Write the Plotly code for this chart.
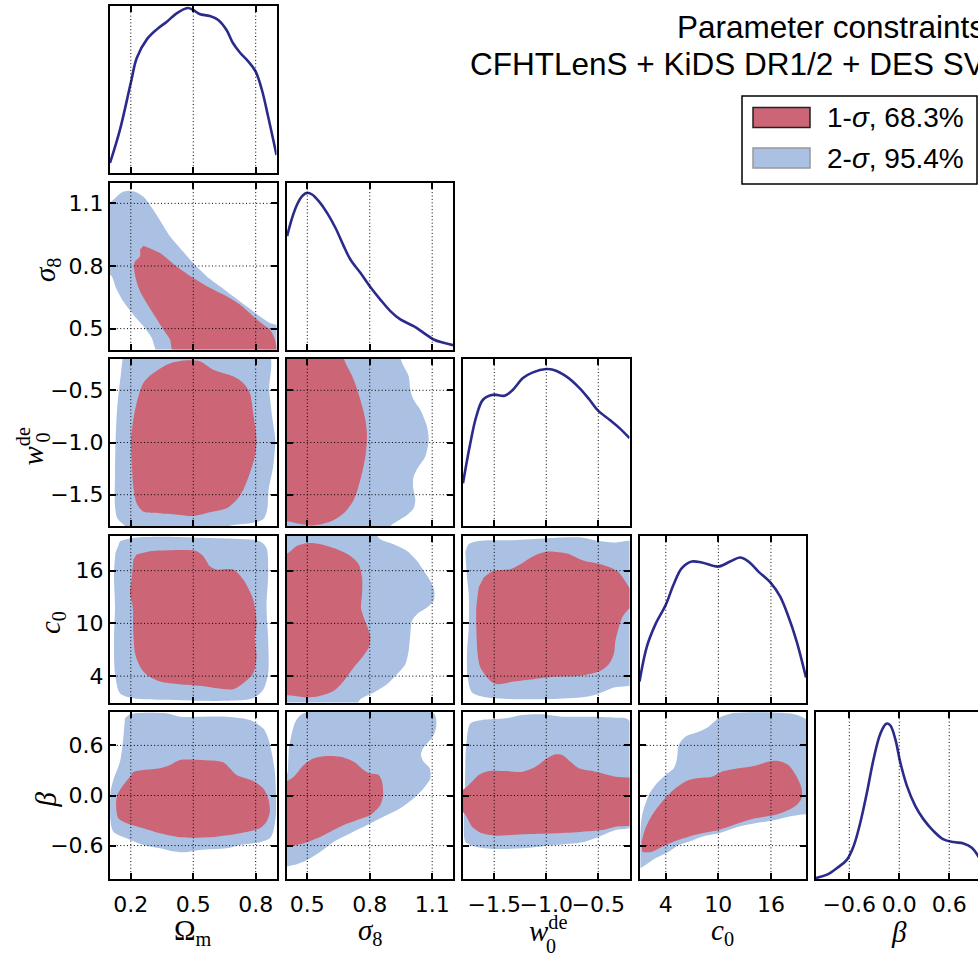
import plotly.graph_objects as go

W, H = 978, 958

# ---------------- parameters / axes ----------------
param_labels = ["Ω<sub>m</sub>", "<i>σ</i><sub>8</sub>", "<i>w</i><sup>de</sup>",
                "<i>c</i><sub>0</sub>", "<i>β</i>"]
stacked_sub = {2: "0"}
param_ranges = [[0.1, 0.9], [0.4, 1.2], [-1.8, -0.2], [1.0, 20.0], [-1.0, 1.0]]
tick_vals = [[0.2, 0.5, 0.8], [0.5, 0.8, 1.1], [-1.5, -1.0, -0.5], [4, 10, 16], [-0.6, 0.0, 0.6]]
tick_text = [["0.2", "0.5", "0.8"], ["0.5", "0.8", "1.1"], ["−1.5", "−1.0", "−0.5"],
             ["4", "10", "16"], ["−0.6", "0.0", "0.6"]]

title_lines = ["Parameter constraints", "CFHTLenS + KiDS DR1/2 + DES SV"]
legend_labels = ["1-<i>σ</i>, 68.3%", "2-<i>σ</i>, 95.4%"]

# ---------------- 1D marginals (normalised heights) ----------------
om_1d_x = [0.1, 0.148, 0.2, 0.229, 0.277, 0.325, 0.373, 0.42, 0.473, 0.5, 0.53, 0.58, 0.62,
           0.66, 0.69, 0.725, 0.765, 0.8, 0.83, 0.86, 0.9]
om_1d_y = [0.06, 0.26, 0.54, 0.69, 0.80, 0.86, 0.906, 0.956, 0.988, 0.976, 0.952, 0.94, 0.916,
           0.856, 0.78, 0.72, 0.667, 0.607, 0.497, 0.337, 0.108]

s8_1d_x = [0.403, 0.427, 0.451, 0.475, 0.499, 0.523, 0.555, 0.595, 0.635, 0.675, 0.707, 0.755,
           0.8, 0.851, 0.899, 0.947, 1.011, 1.059, 1.107, 1.155, 1.2]
s8_1d_y = [0.679, 0.788, 0.868, 0.918, 0.938, 0.928, 0.888, 0.818, 0.729, 0.619, 0.539, 0.459,
           0.379, 0.299, 0.230, 0.180, 0.140, 0.100, 0.060, 0.040, 0.026]

w0_1d_x = [-1.8, -1.736, -1.672, -1.608, -1.512, -1.40, -1.32, -1.224, -1.128, -1.0, -0.936,
           -0.808, -0.68, -0.584, -0.504, -0.392, -0.296, -0.2]
w0_1d_y = [0.256, 0.476, 0.656, 0.756, 0.786, 0.78, 0.816, 0.886, 0.92, 0.94, 0.936, 0.896,
           0.826, 0.756, 0.692, 0.636, 0.586, 0.526]

c0_1d_x = [1.0, 1.84, 2.79, 4.0, 4.88, 5.83, 6.97, 8.11, 10.0, 11.34, 12.48, 13.43, 14.57,
           16.0, 17.04, 17.99, 18.94, 20.0]
c0_1d_y = [0.126, 0.335, 0.465, 0.585, 0.705, 0.805, 0.844, 0.838, 0.814, 0.844, 0.868, 0.844,
           0.784, 0.715, 0.635, 0.515, 0.365, 0.15]

beta_1d_x = [-1.0, -0.868, -0.748, -0.628, -0.548, -0.468, -0.388, -0.308, -0.228, -0.156,
             -0.108, -0.048, 0.012, 0.092, 0.192, 0.292, 0.412, 0.532, 0.652, 0.772, 0.872,
             0.948, 1.0]
beta_1d_y = [0.006, 0.026, 0.066, 0.116, 0.197, 0.337, 0.518, 0.719, 0.869, 0.930, 0.920,
             0.839, 0.699, 0.558, 0.438, 0.357, 0.287, 0.237, 0.221, 0.213, 0.187, 0.137, 0.076]

# ---------------- 2D contours (x, y) ----------------
om_s8_2sig = [(0.1, 1.077), (0.124, 1.125), (0.156, 1.152), (0.188, 1.160), (0.228, 1.152),
              (0.268, 1.125), (0.308, 1.069), (0.348, 1.006), (0.388, 0.942), (0.436, 0.886),
              (0.5, 0.814), (0.564, 0.751), (0.628, 0.703), (0.692, 0.655), (0.756, 0.607),
              (0.82, 0.559), (0.868, 0.527), (0.9, 0.504), (0.9, 0.4), (0.34, 0.4),
              (0.3, 0.456), (0.26, 0.512), (0.212, 0.567), (0.164, 0.631), (0.129, 0.695),
              (0.108, 0.751), (0.1, 0.782)]
om_s8_1sig = [(0.26, 0.897), (0.34, 0.862), (0.42, 0.798), (0.5, 0.743), (0.596, 0.687),
              (0.66, 0.655), (0.724, 0.615), (0.788, 0.559), (0.836, 0.52), (0.868, 0.496),
              (0.892, 0.448), (0.897, 0.4), (0.412, 0.4), (0.388, 0.448), (0.356, 0.496),
              (0.316, 0.559), (0.276, 0.623), (0.244, 0.679), (0.225, 0.735), (0.215, 0.798),
              (0.22, 0.822), (0.244, 0.846), (0.244, 0.878)]

om_w0_2sig = [(0.164, -0.2), (0.86, -0.2), (0.865, -0.494), (0.881, -0.782), (0.894, -0.974),
              (0.884, -1.23), (0.862, -1.454), (0.855, -1.646), (0.836, -1.736), (0.788, -1.768),
              (0.692, -1.79), (0.532, -1.8), (0.212, -1.8), (0.164, -1.784), (0.135, -1.726),
              (0.124, -1.614), (0.124, -1.294), (0.127, -0.974), (0.135, -0.654), (0.151, -0.366)]
om_w0_1sig = [(0.404, -0.232), (0.468, -0.213), (0.532, -0.222), (0.596, -0.302), (0.692, -0.366),
              (0.74, -0.43), (0.772, -0.526), (0.788, -0.718), (0.804, -0.974), (0.796, -1.134),
              (0.772, -1.294), (0.74, -1.454), (0.708, -1.55), (0.66, -1.63), (0.596, -1.662),
              (0.5, -1.704), (0.436, -1.694), (0.34, -1.678), (0.26, -1.662), (0.228, -1.582),
              (0.212, -1.422), (0.204, -1.166), (0.201, -0.974), (0.212, -0.782), (0.228, -0.622),
              (0.26, -0.43), (0.308, -0.334), (0.372, -0.254)]

om_c0_2sig = [(0.148, 19.35), (0.212, 19.73), (0.372, 19.85), (0.532, 19.73), (0.692, 19.62),
              (0.82, 19.35), (0.852, 18.59), (0.86, 15.74), (0.852, 11.94), (0.86, 8.14),
              (0.86, 4.34), (0.836, 2.44), (0.788, 1.49), (0.692, 1.23), (0.532, 1.19),
              (0.372, 1.30), (0.212, 1.49), (0.148, 2.06), (0.124, 4.34), (0.119, 8.14),
              (0.124, 11.94), (0.119, 15.74), (0.126, 18.02)]
om_c0_1sig = [(0.228, 17.83), (0.292, 18.21), (0.404, 18.33), (0.516, 18.21), (0.548, 17.64),
              (0.58, 16.50), (0.612, 16.12), (0.692, 16.12), (0.74, 14.98), (0.788, 12.70),
              (0.804, 10.04), (0.796, 8.14), (0.804, 6.24), (0.788, 4.34), (0.74, 3.20),
              (0.692, 2.52), (0.612, 2.63), (0.532, 2.90), (0.436, 3.09), (0.34, 3.39),
              (0.276, 4.15), (0.244, 5.10), (0.22, 6.62), (0.212, 8.90), (0.209, 11.94),
              (0.196, 13.46), (0.204, 14.98), (0.212, 17.26)]

om_beta_2sig = [(0.172, 0.924), (0.196, 0.972), (0.372, 0.984), (0.436, 0.944), (0.532, 0.944),
                (0.66, 0.944), (0.772, 0.904), (0.836, 0.804), (0.86, 0.685), (0.876, 0.525),
                (0.892, 0.285), (0.897, 0.046), (0.897, -0.234), (0.884, -0.433), (0.868, -0.513),
                (0.82, -0.561), (0.724, -0.593), (0.66, -0.633), (0.532, -0.653), (0.452, -0.681),
                (0.388, -0.661), (0.34, -0.633), (0.26, -0.593), (0.18, -0.513), (0.116, -0.433),
                (0.103, -0.313), (0.103, 0.046), (0.116, 0.186), (0.148, 0.405), (0.164, 0.685)]
om_beta_1sig = [(0.212, 0.285), (0.26, 0.305), (0.34, 0.325), (0.388, 0.365), (0.436, 0.425),
                (0.532, 0.425), (0.644, 0.397), (0.676, 0.325), (0.708, 0.245), (0.788, 0.174),
                (0.836, 0.086), (0.86, -0.034), (0.868, -0.194), (0.852, -0.313), (0.82, -0.393),
                (0.724, -0.453), (0.612, -0.493), (0.5, -0.505), (0.436, -0.501), (0.34, -0.453),
                (0.26, -0.393), (0.18, -0.333), (0.14, -0.273), (0.129, -0.114), (0.135, 0.006),
                (0.164, 0.126), (0.196, 0.226)]

s8_w0_2sig = [(0.4, -0.2), (0.923, -0.2), (0.963, -0.27), (0.987, -0.366), (0.995, -0.494),
              (1.011, -0.59), (1.043, -0.686), (1.075, -0.846), (1.083, -0.974), (1.067, -1.134),
              (1.035, -1.23), (1.011, -1.326), (1.008, -1.422), (1.019, -1.55), (1.011, -1.63),
              (0.979, -1.694), (0.915, -1.774), (0.851, -1.8), (0.4, -1.8)]
s8_w0_1sig = [(0.4, -0.2), (0.651, -0.2), (0.691, -0.27), (0.723, -0.398), (0.755, -0.59),
              (0.779, -0.782), (0.787, -0.942), (0.779, -1.134), (0.755, -1.358), (0.723, -1.55),
              (0.675, -1.678), (0.611, -1.758), (0.531, -1.794), (0.467, -1.781), (0.411, -1.758),
              (0.4, -1.742)]

s8_c0_2sig = [(0.4, 20.0), (0.803, 20.0), (0.851, 19.58), (0.915, 19.01), (0.979, 18.25),
              (1.027, 17.12), (1.059, 15.98), (1.091, 14.84), (1.110, 13.70), (1.107, 12.57),
              (1.075, 11.81), (1.027, 11.05), (1.003, 10.29), (0.995, 8.77), (0.987, 6.88),
              (0.971, 5.36), (0.931, 4.22), (0.883, 3.09), (0.819, 2.14), (0.755, 1.38),
              (0.723, 1.0), (0.4, 1.0)]
s8_c0_1sig = [(0.4, 17.5), (0.411, 18.06), (0.451, 18.82), (0.499, 19.13), (0.563, 19.01),
              (0.643, 18.44), (0.707, 17.68), (0.747, 16.74), (0.763, 15.22), (0.763, 13.32),
              (0.758, 11.81), (0.771, 10.67), (0.79, 9.53), (0.803, 8.39), (0.795, 7.26),
              (0.763, 6.12), (0.723, 4.98), (0.675, 3.46), (0.627, 2.33), (0.563, 1.76),
              (0.499, 1.57), (0.435, 1.76), (0.4, 1.95)]

s8_beta_2sig = [(0.411, 0.565), (0.443, 0.884), (0.483, 0.984), (1.107, 0.984), (1.12, 0.844),
                (1.107, 0.725), (1.083, 0.645), (1.056, 0.565), (1.046, 0.485), (1.059, 0.405),
                (1.088, 0.325), (1.091, 0.206), (1.059, 0.086), (1.011, -0.034), (0.947, -0.154),
                (0.883, -0.234), (0.819, -0.313), (0.755, -0.393), (0.691, -0.473), (0.627, -0.553),
                (0.563, -0.673), (0.499, -0.772), (0.435, -0.832), (0.4, -0.84), (0.4, -0.114),
                (0.406, 0.285)]
s8_beta_1sig = [(0.4, 0.126), (0.435, 0.226), (0.483, 0.365), (0.531, 0.445), (0.595, 0.473),
                (0.659, 0.465), (0.723, 0.405), (0.771, 0.305), (0.8, 0.265), (0.843, 0.245),
                (0.859, 0.166), (0.864, 0.006), (0.851, -0.114), (0.803, -0.234), (0.739, -0.293),
                (0.675, -0.353), (0.611, -0.433), (0.547, -0.513), (0.483, -0.573), (0.427, -0.601),
                (0.4, -0.601)]

w0_c0_2sig = [(-1.778, 18.1), (-1.745, 19.01), (-1.633, 19.39), (-1.313, 19.47), (-0.992, 19.69),
              (-0.671, 19.77), (-0.511, 19.39), (-0.351, 19.20), (-0.2, 19.20), (-0.2, 3.28),
              (-0.351, 2.71), (-0.511, 1.95), (-0.671, 1.57), (-0.992, 1.38), (-1.313, 1.38),
              (-1.569, 1.57), (-1.713, 2.14), (-1.755, 3.84), (-1.762, 6.50), (-1.745, 9.53),
              (-1.745, 13.32), (-1.762, 15.22)]
w0_c0_1sig = [(-1.601, 15.22), (-1.505, 15.98), (-1.345, 16.17), (-1.249, 16.74), (-1.120, 17.68),
              (-0.992, 18.18), (-0.8, 17.95), (-0.639, 17.12), (-0.479, 16.74), (-0.319, 15.98),
              (-0.223, 14.46), (-0.2, 12.57), (-0.223, 11.43), (-0.271, 10.67), (-0.303, 9.53),
              (-0.335, 8.02), (-0.351, 6.50), (-0.399, 5.36), (-0.479, 4.60), (-0.671, 4.03),
              (-0.928, 3.92), (-1.12, 3.65), (-1.313, 3.39), (-1.473, 3.09), (-1.537, 3.46),
              (-1.633, 4.98), (-1.659, 6.50), (-1.672, 9.53), (-1.672, 11.81), (-1.649, 14.08)]

w0_beta_2sig = [(-1.76, 0.725), (-1.728, 0.864), (-1.616, 0.904), (-1.392, 0.924), (-1.231, 0.964),
                (-1.039, 0.972), (-0.847, 0.944), (-0.591, 0.944), (-0.335, 0.932), (-0.207, 0.904),
                (-0.2, -0.353), (-0.335, -0.413), (-0.495, -0.493), (-0.655, -0.561),
                (-0.911, -0.593), (-1.231, -0.633), (-1.488, -0.641), (-1.68, -0.613),
                (-1.776, -0.553), (-1.792, -0.313), (-1.782, 0.086), (-1.776, 0.485)]
w0_beta_1sig = [(-1.8, 0.006), (-1.744, 0.126), (-1.648, 0.245), (-1.552, 0.293), (-1.392, 0.293),
                (-1.231, 0.285), (-1.103, 0.345), (-0.991, 0.445), (-0.911, 0.493), (-0.847, 0.485),
                (-0.767, 0.405), (-0.687, 0.325), (-0.527, 0.285), (-0.335, 0.226), (-0.2, 0.186),
                (-0.2, -0.333), (-0.335, -0.373), (-0.463, -0.413), (-0.655, -0.433),
                (-0.911, -0.453), (-1.231, -0.465), (-1.488, -0.481), (-1.616, -0.453),
                (-1.712, -0.373), (-1.776, -0.234), (-1.8, -0.114)]

c0_beta_2sig = [(1.114, -0.872), (1.114, -0.433), (1.303, -0.234), (2.06, 0.006), (2.82, 0.126),
                (3.96, 0.245), (4.91, 0.325), (5.28, 0.445), (5.47, 0.605), (6.23, 0.705),
                (7.75, 0.764), (8.89, 0.824), (10.02, 0.924), (11.54, 0.984), (17.99, 0.984),
                (19.5, 0.944), (20.0, 0.844), (20.0, -0.194), (19.13, -0.234), (17.99, -0.253),
                (16.47, -0.293), (14.2, -0.333), (12.3, -0.373), (10.02, -0.453), (8.13, -0.493),
                (6.61, -0.553), (5.47, -0.593), (4.34, -0.673), (2.82, -0.752), (1.68, -0.832)]
c0_beta_1sig = [(1.23, -0.553), (1.68, -0.393), (2.44, -0.234), (3.58, -0.074), (5.10, 0.086),
                (6.61, 0.186), (8.13, 0.214), (9.27, 0.226), (10.40, 0.285), (12.30, 0.325),
                (14.20, 0.357), (15.71, 0.405), (16.85, 0.413), (17.99, 0.365), (18.94, 0.226),
                (19.5, 0.086), (19.5, -0.034), (18.94, -0.114), (17.99, -0.174), (16.47, -0.234),
                (14.2, -0.273), (12.3, -0.333), (10.02, -0.413), (8.13, -0.453), (6.61, -0.493),
                (5.10, -0.545), (3.58, -0.613), (2.44, -0.673), (1.68, -0.681), (1.30, -0.673)]

# ---------------- styling ----------------
C_1SIG = "#CC6677"
C_2SIG = "#AAC1E3"
C_LINE = "#2B2B8C"
TICK_FONT = dict(family="DejaVu Sans", size=22, color="black")
LABEL_FONT = dict(family="Liberation Serif", size=29, color="black")
SUB_FONT = dict(family="Liberation Serif", size=20, color="black")
SANS = "Liberation Sans"

marginals = {0: (om_1d_x, om_1d_y), 1: (s8_1d_x, s8_1d_y), 2: (w0_1d_x, w0_1d_y),
             3: (c0_1d_x, c0_1d_y), 4: (beta_1d_x, beta_1d_y)}
contours = {(0, 1): (om_s8_2sig, om_s8_1sig), (0, 2): (om_w0_2sig, om_w0_1sig),
            (0, 3): (om_c0_2sig, om_c0_1sig), (0, 4): (om_beta_2sig, om_beta_1sig),
            (1, 2): (s8_w0_2sig, s8_w0_1sig), (1, 3): (s8_c0_2sig, s8_c0_1sig),
            (1, 4): (s8_beta_2sig, s8_beta_1sig), (2, 3): (w0_c0_2sig, w0_c0_1sig),
            (2, 4): (w0_beta_2sig, w0_beta_1sig), (3, 4): (c0_beta_2sig, c0_beta_1sig)}

PANEL = 166.5
STEP = 176.5
col_left = [110 + STEP * i for i in range(5)]
row_top = [6 + STEP * j for j in range(5)]


def px_x(p):
    return p / W


def px_y(p):
    return 1 - p / H


def clamp(v):
    return max(0.0, min(1.0, v))


def push_out(pts, xr, yr):
    """Vertices lying on a panel edge are moved slightly outside (clipped anyway)."""
    px_ = 0.04 * (xr[1] - xr[0])
    py_ = 0.04 * (yr[1] - yr[0])
    xs, ys = [], []
    for x, y in pts:
        if abs(x - xr[0]) < 1e-6:
            x -= px_
        elif abs(x - xr[1]) < 1e-6:
            x += px_
        if abs(y - yr[0]) < 1e-6:
            y -= py_
        elif abs(y - yr[1]) < 1e-6:
            y += py_
        xs.append(x)
        ys.append(y)
    return xs, ys


fig = go.Figure()
layout = {}
shapes = []
annotations = []
DOT = "1px,2.4px"

k = 0
for r in range(5):
    for c in range(r + 1):
        k += 1
        sfx = "" if k == 1 else str(k)
        xname, yname = "x" + sfx, "y" + sfx
        x0 = col_left[c]
        x1 = min(x0 + PANEL, W)
        y0 = row_top[r]
        y1 = y0 + 167
        xr = list(param_ranges[c])
        if x0 + PANEL > W:
            xr[1] = xr[0] + (W - x0) / PANEL * (xr[1] - xr[0])
        xdom = [clamp(px_x(x0)), clamp(px_x(x1))]
        ydom = [clamp(px_y(y1)), clamp(px_y(y0))]
        common = dict(ticks="inside", ticklen=6, tickwidth=1.5, tickcolor="black",
                      showline=True, linecolor="black", linewidth=2, showgrid=False,
                      zeroline=False, tickfont=TICK_FONT, fixedrange=True, tickangle=0)
        layout["xaxis" + sfx] = dict(domain=xdom, range=xr, anchor=yname,
                                     tickmode="array", tickvals=tick_vals[c],
                                     ticktext=tick_text[c], showticklabels=(r == 4),
                                     mirror="ticks", ticklabelstandoff=5, **common)
        if r == c:
            ya = dict(common)
            ya.update(ticks="", showticklabels=False)
            layout["yaxis" + sfx] = dict(domain=ydom, range=[0, 1],
                                         anchor=xname, mirror=(c != 4), **ya)
            mx, my = marginals[c]
            fig.add_trace(go.Scatter(x=mx, y=my, mode="lines", xaxis=xname, yaxis=yname,
                                     line=dict(color=C_LINE, width=2.6, shape="spline",
                                               smoothing=1.0),
                                     hoverinfo="skip", showlegend=False))
        else:
            yr = list(param_ranges[r])
            layout["yaxis" + sfx] = dict(domain=ydom, range=yr, anchor=xname,
                                         tickmode="array", tickvals=tick_vals[r],
                                         ticktext=tick_text[r], showticklabels=(c == 0),
                                         mirror="ticks", ticklabelstandoff=0, **common)
            two, one = contours[(c, r)]
            for pts, col in ((two, C_2SIG), (one, C_1SIG)):
                xs, ys = push_out(pts, xr, yr)
                fig.add_trace(go.Scatter(x=xs, y=ys, mode="lines", fill="toself",
                                         fillcolor=col, xaxis=xname, yaxis=yname,
                                         line=dict(width=0, color=col, shape="spline",
                                                   smoothing=0.8),
                                         hoverinfo="skip", showlegend=False))
            for tv in tick_vals[r]:
                shapes.append(dict(type="line", xref=xname + " domain", yref=yname,
                                   x0=0, x1=1, y0=tv, y1=tv, layer="above",
                                   line=dict(color="black", width=1, dash=DOT)))
        for tv in tick_vals[c]:
            if xr[0] < tv < xr[1]:
                shapes.append(dict(type="line", xref=xname, yref=yname + " domain",
                                   x0=tv, x1=tv, y0=0, y1=1, layer="above",
                                   line=dict(color="black", width=1, dash=DOT)))

# axis titles (x, below bottom row)
for c in range(5):
    cx = col_left[c] + PANEL / 2
    if c in stacked_sub:
        annotations.append(dict(text=param_labels[c], xref="paper", yref="paper",
                                x=px_x(cx - 19), y=px_y(929), showarrow=False,
                                xanchor="left", yanchor="middle", font=LABEL_FONT))
        annotations.append(dict(text=stacked_sub[c], xref="paper", yref="paper",
                                x=px_x(cx - 2), y=px_y(946), showarrow=False,
                                xanchor="left", yanchor="middle", font=SUB_FONT))
    else:
        annotations.append(dict(text=param_labels[c], xref="paper", yref="paper",
                                x=px_x(cx), y=px_y(932), showarrow=False,
                                xanchor="center", yanchor="middle", font=LABEL_FONT))

# axis titles (y, left of first column)
ylab_x = {1: 47, 2: 30, 3: 52, 4: 45}
for r in range(1, 5):
    cy = row_top[r] + 167 / 2 + 4
    if r in stacked_sub:
        annotations.append(dict(text=param_labels[r], xref="paper", yref="paper",
                                x=px_x(ylab_x[r]), y=px_y(cy), showarrow=False,
                                textangle=-90, xanchor="center", yanchor="middle",
                                font=LABEL_FONT))
        annotations.append(dict(text=stacked_sub[r], xref="paper", yref="paper",
                                x=px_x(ylab_x[r] + 12), y=px_y(cy - 9), showarrow=False,
                                textangle=-90, xanchor="center", yanchor="middle",
                                font=SUB_FONT))
    else:
        annotations.append(dict(text=param_labels[r], xref="paper", yref="paper",
                                x=px_x(ylab_x[r]), y=px_y(cy), showarrow=False,
                                textangle=-90, xanchor="center", yanchor="middle",
                                font=LABEL_FONT))

# title
for i, line in enumerate(title_lines):
    annotations.append(dict(text=line, xref="paper", yref="paper", x=px_x(987),
                            y=px_y(26.5 + 37 * i), showarrow=False, xanchor="right",
                            yanchor="middle", font=dict(family=SANS, size=31.5, color="black")))

# legend box
shapes.append(dict(type="rect", xref="paper", yref="paper", x0=px_x(742), x1=px_x(977),
                   y0=px_y(184), y1=px_y(96), layer="above", fillcolor="white",
                   line=dict(color="black", width=1.5)))
leg_cols = [(C_1SIG, "#222222"), (C_2SIG, "#999999")]
leg_y = [117.5, 158]
for i in range(2):
    fc, ec = leg_cols[i]
    shapes.append(dict(type="rect", xref="paper", yref="paper", x0=px_x(753), x1=px_x(810),
                       y0=px_y(leg_y[i] + 10), y1=px_y(leg_y[i] - 10), layer="above",
                       fillcolor=fc, line=dict(color=ec, width=1.5)))
    annotations.append(dict(text=legend_labels[i], xref="paper", yref="paper", x=px_x(825),
                            y=px_y(leg_y[i]), showarrow=False, xanchor="left", yanchor="middle",
                            font=dict(family=SANS, size=28, color="black")))

fig.update_layout(width=W, height=H, margin=dict(l=0, r=0, t=0, b=0), autosize=False,
                  paper_bgcolor="white", plot_bgcolor="white", showlegend=False,
                  hovermode=False, shapes=shapes, annotations=annotations, **layout)

fig.write_html("out.html", config={"responsive": False, "displayModeBar": False},
               post_script="document.body.style.margin='0px';"
                           "document.body.style.overflow='hidden';")
